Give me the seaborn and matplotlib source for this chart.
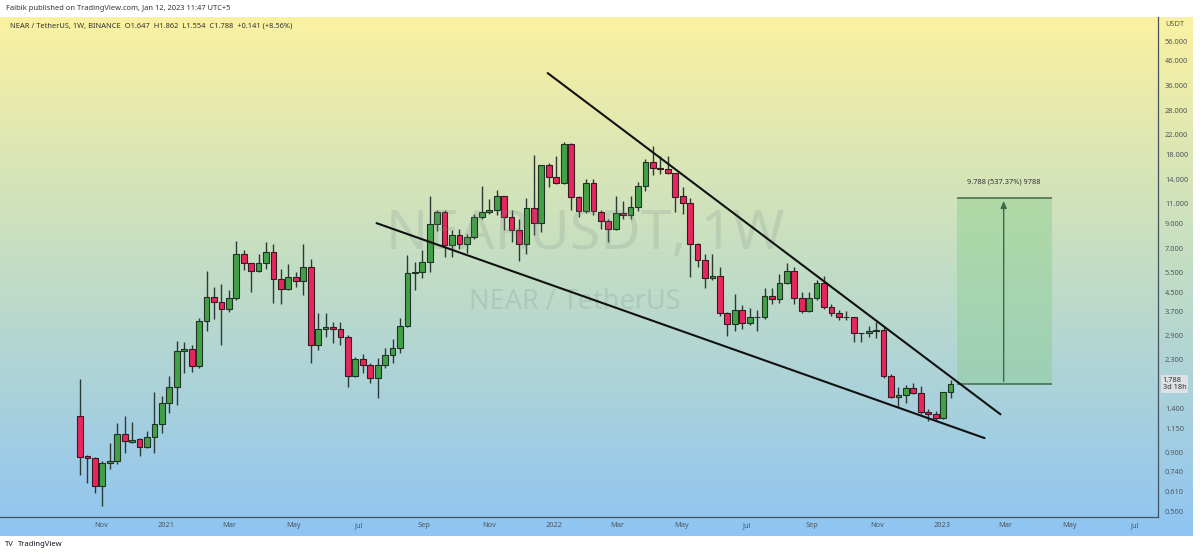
import numpy as np
import pandas as pd
import matplotlib
matplotlib.use("Agg")
import matplotlib.pyplot as plt
import matplotlib.dates as mdates
from matplotlib.ticker import FixedLocator, NullLocator
from matplotlib.colors import LinearSegmentedColormap
import seaborn as sns

# ---------------- data (weekly NEAR/USDT candles) ----------------
start_week = "2020-10-12"
n_weeks = 118
opens = [1.30, 0.87, 0.85, 0.64, 0.81, 0.83, 1.08, 1.00, 1.03, 0.95,
         1.05, 1.20, 1.48, 1.74, 2.49, 2.54, 2.14, 3.37, 4.29, 4.08,
         3.80, 4.25, 6.60, 6.03, 5.57, 6.03, 6.73, 5.13, 4.64, 5.24,
         5.03, 5.79, 2.65, 3.11, 3.17, 3.12, 2.87, 1.94, 2.30, 2.17,
         1.90, 2.17, 2.39, 2.57, 3.20, 5.45, 5.50, 6.09, 8.90, 10.06,
         7.22, 7.98, 7.30, 7.83, 9.57, 10.06, 10.30, 11.80, 9.57, 8.40,
         7.30, 10.47, 9.00, 16.10, 14.30, 13.46, 19.90, 11.70, 10.20, 13.46,
         10.10, 9.20, 8.48, 9.96, 9.77, 10.58, 13.06, 16.60, 15.60, 15.50,
         14.90, 11.80, 11.00, 7.30, 6.20, 5.19, 5.30, 3.65, 3.27, 3.76,
         3.29, 3.50, 3.50, 4.33, 4.20, 4.93, 5.57, 4.25, 3.72, 4.25,
         4.93, 3.88, 3.65, 3.50, 3.50, 2.99, 2.98, 3.06, 3.08, 1.94,
         1.57, 1.61, 1.72, 1.63, 1.35, 1.33, 1.27, 1.647]
highs = [1.88, 0.88, 0.86, 0.83, 0.99, 1.21, 1.30, 1.22, 1.04, 1.12,
         1.65, 1.59, 1.94, 2.76, 2.74, 2.66, 3.47, 5.57, 4.74, 4.88,
         4.60, 7.52, 6.90, 6.05, 6.60, 7.42, 7.30, 5.70, 5.95, 5.50,
         7.30, 6.28, 3.65, 3.65, 3.34, 3.34, 2.92, 2.35, 2.42, 2.20,
         2.32, 2.57, 2.81, 3.47, 6.53, 6.10, 6.90, 11.80, 10.30, 10.30,
         8.40, 8.50, 8.10, 9.90, 13.06, 11.50, 12.60, 11.80, 10.30, 9.40,
         11.60, 17.80, 16.20, 16.40, 17.60, 20.30, 20.10, 11.80, 14.00, 14.00,
         10.30, 9.40, 11.80, 11.20, 11.80, 13.60, 17.20, 19.50, 17.60, 17.60,
         14.90, 13.00, 11.60, 7.40, 6.60, 6.60, 5.80, 3.70, 4.40, 3.95,
         3.85, 3.75, 4.70, 4.70, 5.40, 6.06, 5.80, 4.50, 4.50, 5.10,
         5.30, 4.00, 3.75, 3.72, 3.52, 3.00, 3.20, 3.33, 3.17, 1.98,
         1.73, 1.78, 1.80, 1.75, 1.39, 1.37, 1.65, 1.862]
lows = [0.72, 0.66, 0.60, 0.525, 0.76, 0.80, 0.90, 0.99, 0.87, 0.94,
        0.90, 1.09, 1.34, 1.45, 2.00, 2.02, 2.10, 3.05, 3.44, 2.65,
        3.70, 4.15, 5.60, 4.50, 5.50, 5.70, 4.03, 3.99, 4.60, 4.73,
        4.37, 2.21, 2.52, 2.87, 2.70, 2.65, 1.74, 1.92, 2.00, 1.80,
        1.56, 2.10, 2.22, 2.45, 3.18, 4.60, 5.20, 5.50, 8.30, 6.40,
        6.40, 6.95, 6.70, 7.70, 9.40, 9.90, 9.80, 8.40, 7.45, 6.15,
        6.60, 8.00, 8.20, 13.00, 13.30, 13.30, 10.30, 9.57, 10.00, 9.80,
        8.50, 7.45, 8.40, 9.40, 9.40, 10.20, 12.40, 14.60, 14.80, 14.80,
        10.10, 9.90, 5.24, 5.80, 4.69, 5.10, 3.55, 2.90, 3.05, 3.10,
        3.23, 3.05, 3.45, 4.00, 4.05, 4.90, 4.00, 3.65, 3.70, 4.15,
        3.80, 3.55, 3.40, 3.42, 2.74, 2.74, 2.86, 2.84, 1.90, 1.55,
        1.42, 1.48, 1.62, 1.33, 1.23, 1.23, 1.26, 1.554]
closes = [0.86, 0.85, 0.64, 0.81, 0.83, 1.08, 1.01, 1.02, 0.95, 1.05,
          1.20, 1.48, 1.74, 2.49, 2.54, 2.14, 3.37, 4.29, 4.08, 3.80,
          4.25, 6.60, 6.03, 5.57, 6.03, 6.73, 5.13, 4.64, 5.24, 5.03,
          5.79, 2.65, 3.11, 3.17, 3.11, 2.87, 1.94, 2.30, 2.17, 1.90,
          2.17, 2.39, 2.57, 3.20, 5.45, 5.50, 6.09, 8.90, 10.06, 7.22,
          7.98, 7.30, 7.83, 9.57, 10.06, 10.30, 11.80, 9.57, 8.40, 7.30,
          10.47, 9.00, 16.10, 14.30, 13.46, 19.90, 11.70, 10.20, 13.46, 10.20,
          9.20, 8.48, 9.96, 9.77, 10.58, 13.06, 16.60, 15.60, 15.50, 14.90,
          11.70, 11.00, 7.30, 6.20, 5.19, 5.30, 3.65, 3.27, 3.76, 3.29,
          3.50, 3.52, 4.33, 4.20, 4.93, 5.57, 4.25, 3.72, 4.25, 4.93,
          3.88, 3.65, 3.50, 3.52, 2.99, 2.98, 3.06, 3.08, 1.94, 1.57,
          1.61, 1.72, 1.63, 1.35, 1.33, 1.27, 1.647, 1.788]

# trend lines drawn on the chart (date, price)
upper_line_dates = ["2021-12-26", "2023-02-25"]
upper_line_prices = [40.6, 1.32]
lower_line_dates = ["2021-07-18", "2023-02-10"]
lower_line_prices = [9.0, 1.04]

# long-position target box
box_dates = ["2023-01-15", "2023-04-14"]
box_arrow_date = "2023-02-28"
box_low, box_high = 1.788, 11.576
box_label = "9.788 (537.37%) 9788"

price_ticks = [56, 46, 36, 28, 22, 18, 14, 11, 9, 7, 5.5, 4.5, 3.7, 2.9,
               2.3, 1.4, 1.15, 0.9, 0.74, 0.61, 0.5]
month_tick_dates = ["2020-11-01", "2021-01-01", "2021-03-01", "2021-05-01",
                    "2021-07-01", "2021-09-01", "2021-11-01", "2022-01-01",
                    "2022-03-01", "2022-05-01", "2022-07-01", "2022-09-01",
                    "2022-11-01", "2023-01-01", "2023-03-01", "2023-05-01",
                    "2023-07-01"]
month_tick_labels = ["Nov", "2021", "Mar", "May", "Jul", "Sep", "Nov", "2022",
                     "Mar", "May", "Jul", "Sep", "Nov", "2023", "Mar", "May",
                     "Jul"]

header_top = "Faibik published on TradingView.com, Jan 12, 2023 11:47 UTC+5"
header_sym = ("NEAR / TetherUS, 1W, BINANCE  O1.647  H1.862  L1.554  "
              "C1.788  +0.141 (+8.56%)")

# ---------------- figure ----------------
sns.set_theme(style="white")
plt.rcParams["font.family"] = ["Noto Sans", "DejaVu Sans"]

W, H = 1200, 556
fig = plt.figure(figsize=(W / 100, H / 100), dpi=100)
fig.patch.set_facecolor("white")


def fx(px):
    return px / W


def fy(py):
    return 1 - py / H


# gradient background
bg = fig.add_axes([0, fy(536), fx(1193), fy(17) - fy(536)])
grad = np.linspace(0, 1, 256).reshape(-1, 1)
cmap = LinearSegmentedColormap.from_list(
    "tvgrad", [(0, "#fbf1a1"), (0.45, "#c6dfc2"), (1, "#8fc5f3")])
bg.imshow(grad, aspect="auto", cmap=cmap, extent=[0, 1, 0, 1], origin="upper")
bg.axis("off")
bg.set_zorder(0)

ax = fig.add_axes([0, fy(517), fx(1158), fy(17) - fy(517)])
ax.set_facecolor("none")
ax.set_zorder(1)

dates = pd.date_range(start_week, periods=n_weeks, freq="7D")
x = mdates.date2num(dates)
o = np.array(opens)
h = np.array(highs)
l = np.array(lows)
c = np.array(closes)
up = c >= o
body_lo = np.minimum(o, c)
body_hi = np.maximum(o, c)
body_h = np.maximum(body_hi - body_lo, body_lo * 0.004)

ax.set_yscale("log")
ax.vlines(x, l, h, color="#2c3a36", lw=1.0, zorder=2)
ax.bar(x[up], body_h[up], bottom=body_lo[up], width=5.4,
       color="#43a047", edgecolor="#1f3324", linewidth=0.8, zorder=3)
ax.bar(x[~up], body_h[~up], bottom=body_lo[~up], width=5.4,
       color="#e8265e", edgecolor="#3a1a22", linewidth=0.8, zorder=3)

# trend lines
lines_df = pd.DataFrame({
    "date": pd.to_datetime(upper_line_dates + lower_line_dates),
    "price": upper_line_prices + lower_line_prices,
    "line": ["upper"] * 2 + ["lower"] * 2,
})
sns.lineplot(data=lines_df, x="date", y="price", units="line",
             estimator=None, color="#111111", lw=1.5, ax=ax, zorder=4,
             legend=False)

# target box
bd = pd.to_datetime(box_dates)
ax.fill_between(bd, box_low, box_high, color="#86cc8a", alpha=0.42,
                lw=0, zorder=1.5)
ax.hlines([box_low, box_high], bd[0], bd[1], color="#3d6b48", lw=1.1,
          zorder=2)
ad = pd.to_datetime(box_arrow_date)
ax.annotate("", xy=(ad, box_high), xytext=(ad, box_low),
            arrowprops=dict(arrowstyle="-|>,head_length=0.35,head_width=0.15",
                            color="#3d6b48", lw=1.0), zorder=2)
ax.annotate(box_label, xy=(ad, box_high), xytext=(0, 9),
            textcoords="offset points", ha="center", va="bottom",
            fontsize=5.3, color="#333333")

# watermark
ax.text(0.505, 0.565, "NEARUSDT, 1W", transform=ax.transAxes,
        ha="center", va="center", fontsize=40, color="#7d8a86", alpha=0.2)
ax.text(0.496, 0.43, "NEAR / TetherUS", transform=ax.transAxes,
        ha="center", va="center", fontsize=19.5, color="#7d8a86", alpha=0.22)

# axes limits and ticks
x0 = mdates.date2num(pd.Timestamp(start_week))
ax.set_xlim(x0 - 75.3, x0 + 1014.2)
ax.set_ylim(0.471, 71.3)
ax.yaxis.tick_right()
ax.yaxis.set_major_locator(FixedLocator(price_ticks))
ax.yaxis.set_minor_locator(NullLocator())
ax.set_yticklabels([f"{v:.3f}" for v in price_ticks])
ax.set_xticks(mdates.date2num(pd.to_datetime(month_tick_dates)))
ax.set_xticklabels(month_tick_labels)
ax.tick_params(axis="both", length=0, labelsize=5.3, colors="#4f5860")
ax.tick_params(axis="y", pad=5)
ax.tick_params(axis="x", pad=3.5)
ax.set_xlabel("")
ax.set_ylabel("")
ax.grid(False)
for s in ["top", "left"]:
    ax.spines[s].set_visible(False)
for s in ["bottom", "right"]:
    ax.spines[s].set_visible(True)
    ax.spines[s].set_color("#46535e")
    ax.spines[s].set_linewidth(0.9)

# last price label
ax.text(1.004, closes[-1], "1.788\n3d 18h", transform=ax.get_yaxis_transform(),
        ha="left", va="center", fontsize=5.3, color="#333333", linespacing=1.0,
        bbox=dict(boxstyle="square,pad=0.25", fc="#dde1e4", ec="none"),
        zorder=5, clip_on=False)

# header / footer texts
fig.text(fx(6), fy(8), header_top, fontsize=5.4, color="#333333",
         ha="left", va="center")
fig.text(fx(10), fy(26), header_sym, fontsize=5.4, color="#333333",
         ha="left", va="center")
fig.text(fx(1165), fy(25), "USDT", fontsize=5.3, color="#4f5860",
         ha="left", va="center")
fig.text(fx(5), fy(545), "TV", fontsize=5.5, color="#131722",
         ha="left", va="center", weight="heavy")
fig.text(fx(18), fy(545), "TradingView", fontsize=5.5, color="#131722",
         ha="left", va="center")

fig.savefig("out.png", dpi=100, facecolor="white")
